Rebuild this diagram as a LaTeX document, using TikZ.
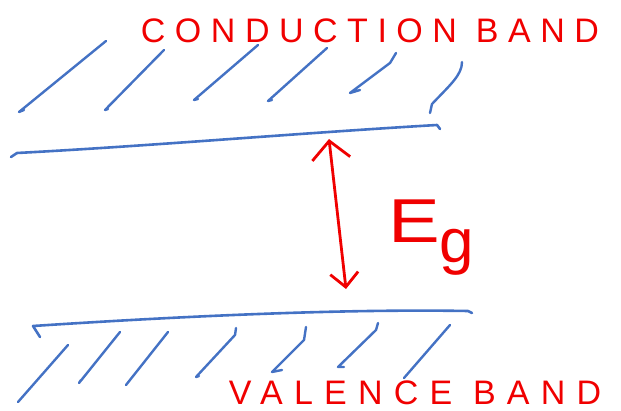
\documentclass[tikz,border=0pt]{standalone}
\usepackage{fontspec}
\setmainfont{Liberation Sans}
\usepackage{tikz}
\usetikzlibrary{arrows.meta}
\definecolor{InkBlue}{HTML}{4472C4}
\definecolor{InkRed}{HTML}{F00000}
\newcommand{\bandFont}{\fontsize{34}{34}\selectfont}

\begin{document}
\begin{tikzpicture}[x=1pt,y=-1pt,
  band/.style={draw=InkBlue,line width=2.6pt,line cap=round,line join=round},
  hatch/.style={draw=InkBlue,line width=2.4pt,line cap=round,line join=round},
  label/.style={text=InkRed,inner sep=0pt,font=\bandFont},
  gap/.style={draw=InkRed,line width=2.8pt,line cap=round,{Straight Barb[length=18pt,width=38pt]}-{Straight Barb[length=14pt,width=28pt]}}
]
\useasboundingbox (0,0) rectangle (621,411);
% conduction band
\draw[band] (11,157) -- (17,153) .. controls (150,146) and (300,133) .. (437,125) -- (440,129);
\draw[hatch] (24,110) -- (19,112) -- (106,41);
\draw[hatch] (108,109) -- (105,110) -- (164,50);
\draw[hatch] (198,99) -- (194,100) -- (258,45);
\draw[hatch] (272,100) -- (268,101) -- (327,48);
\draw[hatch] (360,90) -- (350,93) -- (390,63) -- (396,53);
\draw[hatch] (430,113) -- (432,104) .. controls (450,85) and (462,75) .. (462,62);
% valence band
\draw[band] (40,337) -- (33,326) .. controls (200,315) and (350,309) .. (468,311) -- (472,313);
\draw[hatch] (68,345) -- (18,402);
\draw[hatch] (120,332) -- (79,383) -- (81,380);
\draw[hatch] (168,332) -- (126,385);
\draw[hatch] (236,328) -- (235,335) -- (196,377) -- (199,376);
\draw[hatch] (306,327) -- (304,340) -- (272,372) -- (282,370);
\draw[hatch] (378,323) -- (376,330) -- (338,367) -- (344,367);
\draw[hatch] (450,325) -- (404,378);
% labels
\node[label,font=\bandFont\addfontfeatures{LetterSpace=28}] (cb) at (370,31) {CONDUCTION BAND};
\node[label,font=\bandFont\addfontfeatures{LetterSpace=33}] (vb) at (415,393) {VALENCE BAND};
\node[label,font=\fontsize{62}{62}\selectfont,anchor=base west] (eg) at (388,243) {\scalebox{1.25}[1]{E}\raisebox{-20pt}{g}};
% band gap
\coordinate (ctop) at (329,139);
\coordinate (vbot) at (346,289);
\draw[gap] (ctop) -- (vbot);
\end{tikzpicture}
\end{document}
